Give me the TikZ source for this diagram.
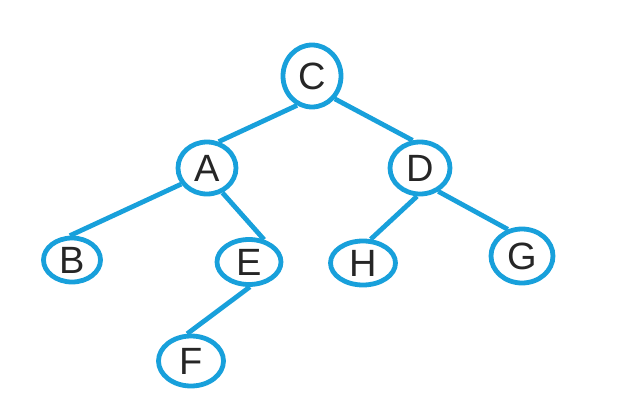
\documentclass[tikz,border=0pt]{standalone}
\usepackage{fontspec}
\setsansfont{Liberation Sans}
\usetikzlibrary{shapes.geometric}
\definecolor{treeblue}{RGB}{24,160,219}
\tikzset{
  bt node/.style={
    ellipse,draw=treeblue,line width=2.4pt,inner sep=0pt,
    text=black!85,font=\sffamily\fontsize{19}{22}\selectfont
  },
  bt edge/.style={treeblue,line width=2.4pt}
}

\begin{document}
\begin{tikzpicture}[x=0.5pt,y=-0.5pt]
  \useasboundingbox (0,0) rectangle (623,418);
  \node[bt node,minimum width=29pt,minimum height=31pt] (c) at (312,76) {C};
  \node[bt node,minimum width=29pt,minimum height=26pt] (a) at (207,168) {A};
  \node[bt node,minimum width=30pt,minimum height=26pt] (d) at (420,168) {D};
  \node[bt node,minimum width=28.5pt,minimum height=22pt] (b) at (72,260) {B};
  \node[bt node,minimum width=32pt,minimum height=22.5pt] (e) at (249,262) {E};
  \node[bt node,minimum width=32.5pt,minimum height=22pt] (h) at (363,263) {H};
  \node[bt node,minimum width=31pt,minimum height=27pt] (g) at (522,256) {G};
  \node[bt node,minimum width=32.5pt,minimum height=25pt] (f) at (191,361) {F};

  \draw[bt edge] (c.243)--(a.66) (c.315)--(d.105)
    (a.212)--(b.95) (a.302)--(e.56)
    (d.264)--(h.72) (d.308)--(g.118)
    (e.272)--(f.98);
\end{tikzpicture}
\end{document}
